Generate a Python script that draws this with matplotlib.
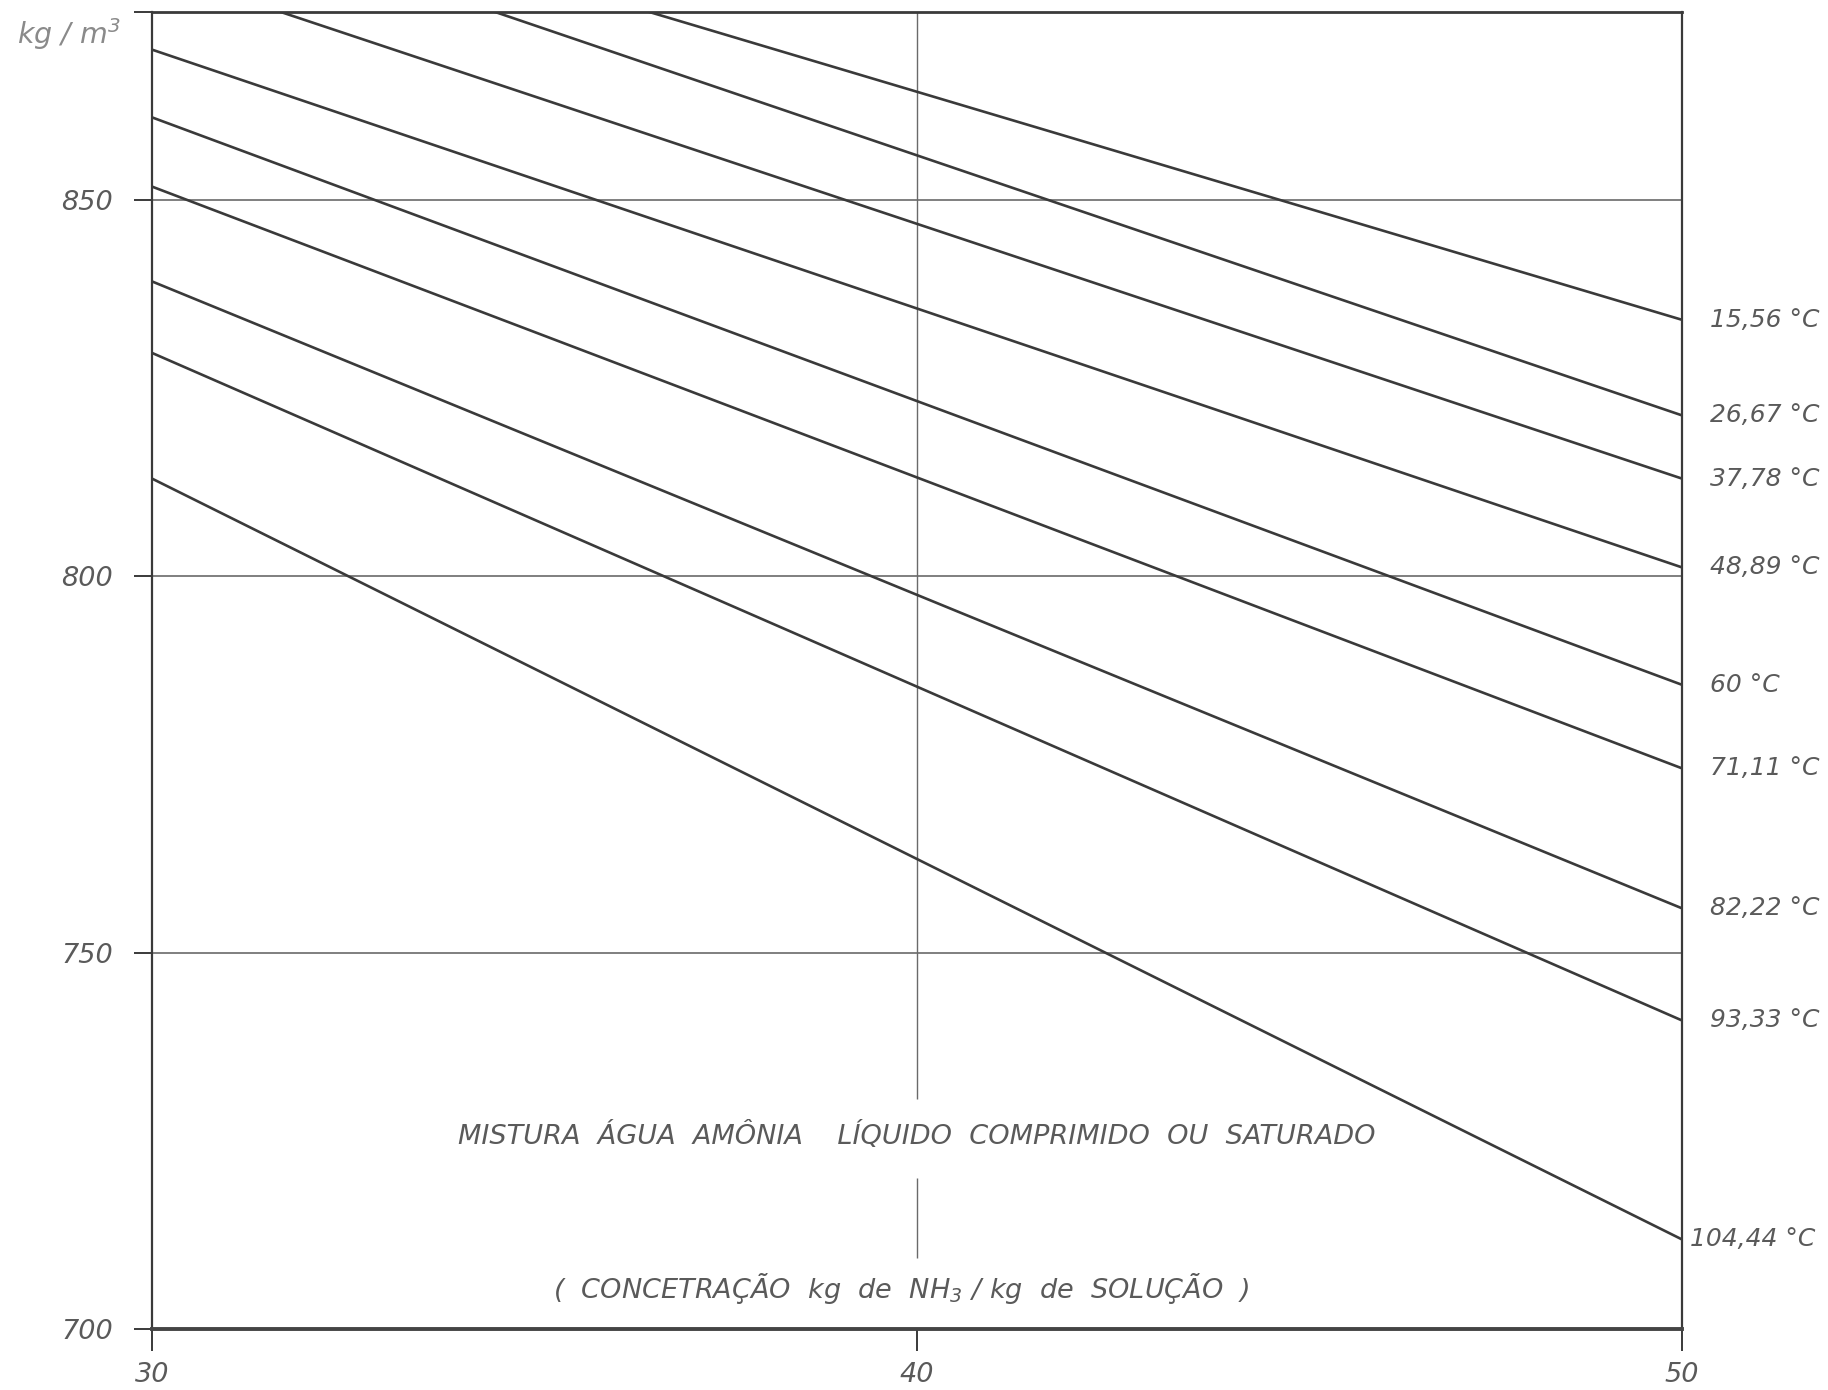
import matplotlib
matplotlib.use("Agg")
import matplotlib.pyplot as plt

# Density of compressed / saturated ammonia-water liquid vs. NH3 concentration
concentration = [30, 50]
temperatures = ["15,56", "26,67", "37,78", "48,89", "60", "71,11", "82,22", "93,33", "104,44"]
density_at_30 = [894.7, 890.5, 880.7, 870.0, 861.0, 851.8, 839.2, 829.7, 813.0]
density_at_50 = [834.1, 821.4, 813.0, 801.2, 785.6, 774.5, 755.9, 741.0, 711.9]

x_ticks = [30, 40, 50]
y_ticks = [700, 750, 800, 850]

plt.rcParams["font.family"] = ["DejaVu Sans"]
plt.rcParams["font.style"] = "oblique"
plt.rcParams["mathtext.default"] = "it"
plt.rcParams["mathtext.fontset"] = "dejavusans"

TEXT = "#5a5a5a"
INK = "#3a3a3a"
GRID = "#6a6a6a"

fig = plt.figure(figsize=(18.28, 13.90), dpi=100, facecolor="white")
ax = fig.add_axes([152 / 1828, 1 - 1329 / 1390, (1682 - 152) / 1828, (1329 - 12) / 1390])
ax.set_xlim(30, 50)
ax.set_ylim(700, 875)

# horizontal guide lines
for v in y_ticks[1:]:
    ax.axhline(v, color=GRID, lw=1.2, zorder=1)

# vertical guide at 40, interrupted around the captions
ax.vlines(40, 730.5, 875, color=GRID, lw=1.0, zorder=1)
ax.vlines(40, 709.4, 720.1, color=GRID, lw=1.0, zorder=1)

# isotherms
for t, a, b in zip(temperatures, density_at_30, density_at_50):
    ax.plot(concentration, [a, b], color=INK, lw=1.9, solid_capstyle="butt", zorder=3)
    dx = 6 if t == "104,44" else 20
    ax.annotate(f"{t} °C", xy=(50, b), xytext=(dx, 0), textcoords="offset points",
                va="center", ha="left", fontsize=18, color=TEXT, annotation_clip=False)

ax.text(40, 725.7, "MISTURA  ÁGUA  AMÔNIA    LÍQUIDO  COMPRIMIDO  OU  SATURADO",
        ha="center", va="center", fontsize=19.5, color=TEXT)
ax.text(39.8, 705.4, "(  CONCETRAÇÃO  kg  de  NH$_3$ / kg  de  SOLUÇÃO  )",
        ha="center", va="center", fontsize=19.5, color=TEXT)

fig.text(17 / 1828, 1 - 34 / 1390, "kg / m$^3$", ha="left", va="center",
         fontsize=20.5, color="#8a8a8a")

# frame and ticks
for side in ["top", "left", "right"]:
    ax.spines[side].set_color(INK)
ax.spines["top"].set_linewidth(2.0)
ax.spines["left"].set_linewidth(1.6)
ax.spines["right"].set_linewidth(1.6)
ax.spines["bottom"].set_linewidth(2.8)
ax.spines["bottom"].set_color("#444444")

ax.set_xticks(x_ticks)
ax.set_xticklabels([str(v) for v in x_ticks])
ax.set_yticks(y_ticks)
ax.set_yticklabels([str(v) for v in y_ticks])
ax.set_yticks([875], minor=True)
ax.tick_params(axis="y", which="both", direction="out", length=13, width=1.4, color=INK,
               pad=15, labelsize=19.5, labelcolor=TEXT)
ax.tick_params(axis="x", direction="out", length=16, width=1.4, color=INK,
               pad=8, labelsize=19.5, labelcolor=TEXT)
for lbl in ax.get_xticklabels() + ax.get_yticklabels():
    lbl.set_style("oblique")

fig.savefig("out.png", dpi=100, facecolor="white")
